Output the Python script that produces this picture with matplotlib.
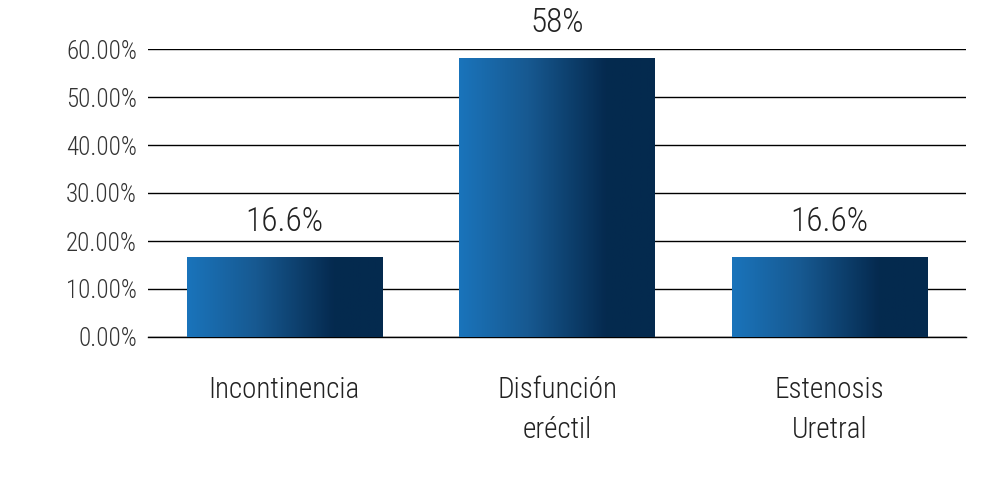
import matplotlib
matplotlib.use('Agg')
from matplotlib import pyplot as plt
from matplotlib.colors import LinearSegmentedColormap
import numpy as np

categories = ['Incontinencia', 'Disfunción\neréctil', 'Estenosis\nUretral']
values = [16.6, 58, 16.6]
value_labels = ['16.6%', '58%', '16.6%']
yticks = [0, 10, 20, 30, 40, 50, 60]

plt.rcParams['font.family'] = ['Roboto Condensed', 'Encode Sans Condensed', 'DejaVu Sans']
plt.rcParams['font.weight'] = 'light'

fig = plt.figure(figsize=(10.04, 4.79), dpi=100)
ax = fig.add_axes([148 / 1004, 142 / 479, 818 / 1004, 288 / 479])

# horizontal gradient for the bars
cmap = LinearSegmentedColormap.from_list(
    'bar', [(0, '#1a74bb'), (0.35, '#175991'), (0.75, '#052a4f'), (1, '#042a4e')])
grad = np.linspace(0, 1, 256).reshape(1, -1)

width = 0.716
x = np.arange(len(categories))
bars = ax.bar(x, values, width=width, color='none', zorder=3)
for b in bars:
    x0, y0 = b.get_x(), b.get_y()
    ax.imshow(grad, cmap=cmap, aspect='auto', zorder=3,
              extent=(x0, x0 + b.get_width(), y0, y0 + b.get_height()))

for xi, v, lab in zip(x, values, value_labels):
    ax.annotate(lab, (xi, v), xytext=(0, 14), textcoords='offset points',
                ha='center', va='bottom', fontsize=24, color='#222222')

ax.set_xlim(-0.5, 2.5)
ax.set_ylim(0, 60)
ax.set_yticks(yticks)
ax.set_yticklabels([f'{t:.2f}%' for t in yticks], fontsize=18, color='#333333')
ax.set_xticks(x)
ax.set_xticklabels(categories, fontsize=21, color='#222222', linespacing=1.55)
ax.tick_params(axis='both', length=0)
ax.tick_params(axis='y', pad=8)
ax.tick_params(axis='x', pad=28)
for s in ['top', 'bottom', 'left', 'right']:
    ax.spines[s].set_visible(False)
ax.grid(axis='y', color='black', linewidth=1, zorder=0)
ax.axhline(0, color='black', linewidth=1, zorder=0, clip_on=False)
ax.set_axisbelow(True)

fig.savefig('out.png', dpi=100)
